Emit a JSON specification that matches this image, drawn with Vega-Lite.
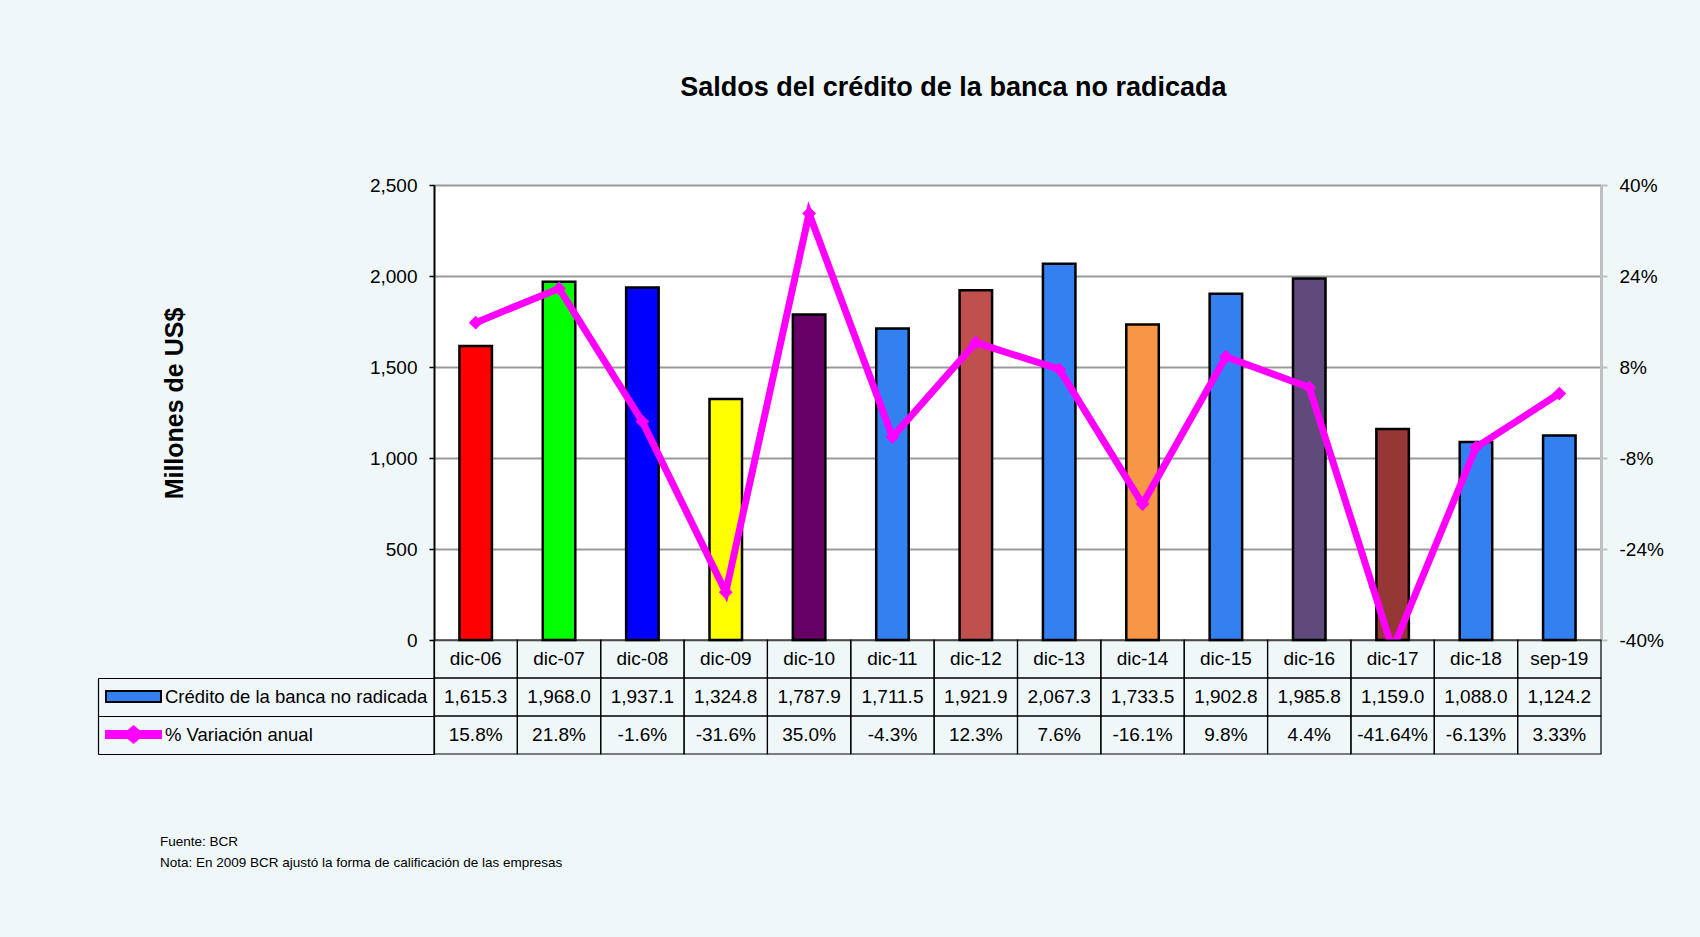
{
  "$schema": "https://vega.github.io/schema/vega-lite/v6.json",
  "background": "#EFF7F9",
  "padding": {"left": 97, "top": 74, "right": 36, "bottom": 67},
  "config": {
    "view": {"stroke": null},
    "font": "Liberation Sans",
    "text": {"font": "Liberation Sans"}
  },
  "title": {
    "text": "Saldos del crédito de la banca no radicada",
    "font": "Liberation Sans",
    "fontWeight": "bold",
    "fontSize": 27,
    "color": "black",
    "anchor": "middle",
    "dx": 73,
    "offset": 74
  },
  "datasets": {
    "datos": [
      {"fecha": "dic-06", "credito": 1615.3, "variacion": 15.8, "cred_txt": "1,615.3", "var_txt": "15.8%"},
      {"fecha": "dic-07", "credito": 1968.0, "variacion": 21.8, "cred_txt": "1,968.0", "var_txt": "21.8%"},
      {"fecha": "dic-08", "credito": 1937.1, "variacion": -1.6, "cred_txt": "1,937.1", "var_txt": "-1.6%"},
      {"fecha": "dic-09", "credito": 1324.8, "variacion": -31.6, "cred_txt": "1,324.8", "var_txt": "-31.6%"},
      {"fecha": "dic-10", "credito": 1787.9, "variacion": 35.0, "cred_txt": "1,787.9", "var_txt": "35.0%"},
      {"fecha": "dic-11", "credito": 1711.5, "variacion": -4.3, "cred_txt": "1,711.5", "var_txt": "-4.3%"},
      {"fecha": "dic-12", "credito": 1921.9, "variacion": 12.3, "cred_txt": "1,921.9", "var_txt": "12.3%"},
      {"fecha": "dic-13", "credito": 2067.3, "variacion": 7.6, "cred_txt": "2,067.3", "var_txt": "7.6%"},
      {"fecha": "dic-14", "credito": 1733.5, "variacion": -16.1, "cred_txt": "1,733.5", "var_txt": "-16.1%"},
      {"fecha": "dic-15", "credito": 1902.8, "variacion": 9.8, "cred_txt": "1,902.8", "var_txt": "9.8%"},
      {"fecha": "dic-16", "credito": 1985.8, "variacion": 4.4, "cred_txt": "1,985.8", "var_txt": "4.4%"},
      {"fecha": "dic-17", "credito": 1159.0, "variacion": -41.64, "cred_txt": "1,159.0", "var_txt": "-41.64%"},
      {"fecha": "dic-18", "credito": 1088.0, "variacion": -6.13, "cred_txt": "1,088.0", "var_txt": "-6.13%"},
      {"fecha": "sep-19", "credito": 1124.2, "variacion": 3.33, "cred_txt": "1,124.2", "var_txt": "3.33%"}
    ],
    "leyenda": [
      {"serie": "Crédito de la banca no radicada"},
      {"serie": "% Variación anual"}
    ]
  },
  "bounds": "flush",
  "spacing": 0,
  "resolve": {
    "scale": {"fill": "independent", "shape": "independent", "stroke": "independent", "color": "independent"},
    "legend": {"fill": "independent", "shape": "independent", "stroke": "independent", "color": "independent"}
  },
  "vconcat": [
    {
      "width": 1167,
      "height": 455,
      "view": {"fill": "white", "stroke": null},
      "data": {"name": "datos"},
      "layer": [
        {
          "mark": {"type": "bar", "width": {"band": 0.39}, "stroke": "black", "strokeWidth": 2.5},
          "encoding": {
            "x": {"field": "fecha", "type": "nominal", "sort": null,
              "scale": {"domain": ["dic-06","dic-07","dic-08","dic-09","dic-10","dic-11","dic-12","dic-13","dic-14","dic-15","dic-16","dic-17","dic-18","sep-19"], "paddingInner": 0, "paddingOuter": 0},
              "axis": null},
            "y": {"field": "credito", "type": "quantitative",
              "scale": {"domain": [0, 2500], "nice": false},
              "axis": {
                "orient": "left", "values": [0, 500, 1000, 1500, 2000, 2500], "format": ",.0f",
                "labelFont": "Liberation Sans", "labelFontSize": 19, "labelColor": "black", "labelPadding": 12,
                "tickColor": "black", "tickSize": 5, "tickWidth": 1.5,
                "domainColor": "black", "domainWidth": 2,
                "grid": true, "gridColor": "#999999", "gridWidth": 2,
                "title": "Millones de US$", "titleFont": "Liberation Sans", "titleFontWeight": "bold",
                "titleFontSize": 25, "titleColor": "black", "titleX": -252, "titleY": 218,
                "titleBaseline": "alphabetic", "titleAngle": 270
              }},
            "color": {"field": "fecha", "type": "nominal",
              "scale": {"domain": ["dic-06","dic-07","dic-08","dic-09","dic-10","dic-11","dic-12","dic-13","dic-14","dic-15","dic-16","dic-17","dic-18","sep-19"],
                "range": ["#FF0000","#00FF00","#0000FF","#FFFF00","#660066","#3380F0","#C0504D","#3380F0","#F79646","#3380F0","#604A7B","#953735","#3380F0","#3380F0"]},
              "legend": null}
          }
        },
        {
          "layer": [
            {
              "mark": {"type": "line", "color": "#FF00FF", "strokeWidth": 7, "clip": true},
              "encoding": {
                "x": {"field": "fecha", "type": "nominal", "sort": null, "axis": null},
                "y": {"field": "variacion", "type": "quantitative",
                  "scale": {"domain": [-40, 40], "nice": false, "zero": false},
                  "axis": {
                    "orient": "right", "values": [-40, -24, -8, 8, 24, 40],
                    "labelExpr": "datum.value + '%'",
                    "labelFont": "Liberation Sans", "labelFontSize": 19, "labelColor": "black", "labelPadding": 12,
                    "tickColor": "#C0C0C0", "tickSize": 6, "tickWidth": 2,
                    "domainColor": "#C0C0C0", "domainWidth": 3,
                    "grid": false, "title": null
                  }}
              }
            },
            {
              "mark": {"type": "point", "shape": "diamond", "filled": true, "color": "#FF00FF", "size": 190, "opacity": 1, "clip": true},
              "encoding": {
                "x": {"field": "fecha", "type": "nominal", "sort": null, "axis": null},
                "y": {"field": "variacion", "type": "quantitative"}
              }
            }
          ]
        }
      ],
      "resolve": {"scale": {"y": "independent"}, "axis": {"y": "independent"}}
    },
    {
      "width": 1167,
      "height": 114,
      "title": {
        "text": ["Fuente: BCR", "Nota: En 2009 BCR ajustó la forma de calificación de las  empresas"],
        "orient": "bottom", "anchor": "start", "frame": "group",
        "font": "Liberation Sans", "fontSize": 13.5, "fontWeight": "normal", "color": "black",
        "lineHeight": 21, "dx": -274, "offset": 80
      },
      "layer": [
        {
          "data": {"name": "datos"},
          "transform": [{"fold": ["fecha", "cred_txt", "var_txt"], "as": ["fila", "texto"]}],
          "mark": {"type": "rect", "fill": "transparent", "stroke": "black", "strokeWidth": 1.2},
          "encoding": {
            "x": {"field": "fecha", "type": "nominal", "sort": null,
              "scale": {"domain": ["dic-06","dic-07","dic-08","dic-09","dic-10","dic-11","dic-12","dic-13","dic-14","dic-15","dic-16","dic-17","dic-18","sep-19"], "paddingInner": 0, "paddingOuter": 0},
              "axis": null},
            "y": {"field": "fila", "type": "nominal",
              "scale": {"domain": ["fecha", "cred_txt", "var_txt"], "paddingInner": 0, "paddingOuter": 0},
              "axis": {
                "orient": "left", "labels": false, "title": null, "grid": false,
                "domain": true, "domainColor": "black", "domainWidth": 1.2,
                "ticks": true, "bandPosition": 1, "tickSize": 336, "tickColor": "black", "tickWidth": 1.2
              }}
          }
        },
        {
          "data": {"name": "datos"},
          "transform": [{"fold": ["fecha", "cred_txt", "var_txt"], "as": ["fila", "texto"]}],
          "mark": {"type": "text", "font": "Liberation Sans", "fontSize": 19, "color": "black", "align": "center", "baseline": "middle"},
          "encoding": {
            "x": {"field": "fecha", "type": "nominal", "sort": null, "axis": null},
            "y": {"field": "fila", "type": "nominal",
              "axis": {
                "orient": "left", "offset": 336, "labels": false, "ticks": false, "title": null, "grid": false,
                "domain": true, "domainColor": "black", "domainWidth": 1.2, "domainDash": [0, 38, 400]
              }},
            "text": {"field": "texto", "type": "nominal"}
          }
        },
        {
          "data": {"name": "leyenda"},
          "mark": {"type": "point", "filled": true, "opacity": 0},
          "encoding": {
            "shape": {"field": "serie", "type": "nominal",
              "scale": {"domain": ["Crédito de la banca no radicada", "% Variación anual"],
                "range": ["M-1,-0.2H1V0.2H-1Z", "M-1,-0.13H-0.2L0,-0.3L0.2,-0.13H1V0.13H0.2L0,0.3L-0.2,0.13H-1Z"]},
              "legend": {
                "orient": "none", "legendX": -329, "legendY": 28, "title": null, "padding": 0,
                "symbolSize": 3025, "symbolStrokeWidth": 2, "symbolOpacity": 1,
                "labelFont": "Liberation Sans", "labelFontSize": 18.5, "labelColor": "black",
                "labelOffset": 3, "rowPadding": -17, "labelLimit": 400, "direction": "vertical",
                "encode": {"symbols": {"update": {"opacity": {"value": 1}}}}
              }},
            "fill": {"field": "serie", "type": "nominal",
              "scale": {"domain": ["Crédito de la banca no radicada", "% Variación anual"], "range": ["#3380F0", "#FF00FF"]}},
            "stroke": {"field": "serie", "type": "nominal",
              "scale": {"domain": ["Crédito de la banca no radicada", "% Variación anual"], "range": ["black", "#FF00FF"]}}
          }
        }
      ],
      "resolve": {"axis": {"y": "independent"}}
    }
  ]
}
